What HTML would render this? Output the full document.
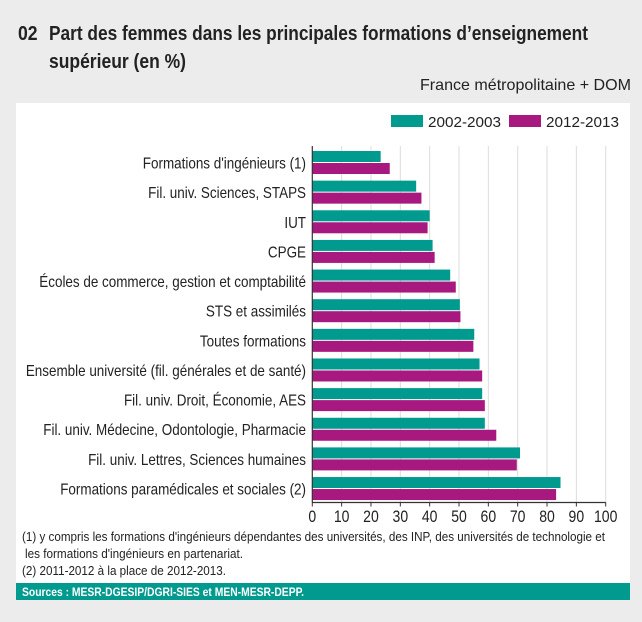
<!DOCTYPE html>
<html><head><meta charset="utf-8"><style>
html,body{margin:0;padding:0;background:#ececec;}
svg{display:block;font-family:"Liberation Sans",sans-serif;}
</style></head><body>
<svg id="chart" width="642" height="622" viewBox="0 0 642 622">
<rect x="0" y="0" width="642" height="622" fill="#ececec"/>
<g font-weight="bold" font-size="20" fill="#222">
<text x="18" y="40" transform="translate(18,0) scale(0.88,1) translate(-18,0)">02</text>
<text x="49" y="40" textLength="539" lengthAdjust="spacingAndGlyphs">Part des femmes dans les principales formations d’enseignement</text>
<text x="49" y="68" textLength="137" lengthAdjust="spacingAndGlyphs">supérieur (en %)</text>
</g>
<text x="631" y="90" text-anchor="end" font-size="16" fill="#222" textLength="211" lengthAdjust="spacingAndGlyphs">France métropolitaine + DOM</text>
<rect x="16" y="103" width="614" height="497" fill="#fff"/>
<g>
<rect x="391" y="115" width="32" height="12" fill="#009a8f"/>
<text x="428" y="127" font-size="15" fill="#222" textLength="73" lengthAdjust="spacingAndGlyphs">2002-2003</text>
<rect x="509" y="115" width="32" height="12" fill="#a7197f"/>
<text x="546" y="127" font-size="15" fill="#222" textLength="73" lengthAdjust="spacingAndGlyphs">2012-2013</text>
</g>
<g id="plot"></g>
<g font-size="13" fill="#222">
<text x="22" y="541" textLength="583" lengthAdjust="spacingAndGlyphs">(1)  y compris les formations d'ingénieurs dépendantes des universités, des INP, des universités de technologie et</text>
<text x="25" y="558" textLength="218" lengthAdjust="spacingAndGlyphs">les formations d'ingénieurs en partenariat.</text>
<text x="22" y="575" textLength="204" lengthAdjust="spacingAndGlyphs">(2) 2011-2012 à la place de 2012-2013.</text>
</g>
<rect x="16" y="583" width="614" height="17" fill="#009a8f"/>
<text x="22" y="596" font-size="12" font-weight="bold" fill="#fff" textLength="282" lengthAdjust="spacingAndGlyphs">Sources : MESR-DGESIP/DGRI-SIES et MEN-MESR-DEPP.</text>
</svg>
<script>
const categories = ["Formations d'ingénieurs (1)","Fil. univ. Sciences, STAPS","IUT","CPGE","Écoles de commerce, gestion et comptabilité","STS et assimilés","Toutes formations","Ensemble université (fil. générales et de santé)","Fil. univ. Droit, Économie, AES","Fil. univ. Médecine, Odontologie, Pharmacie","Fil. univ. Lettres, Sciences humaines","Formations paramédicales et sociales (2)"];
const values2002 = [23.3,35.4,40.0,41.0,47.0,50.3,55.2,57.0,57.9,58.8,70.8,84.6];
const values2012 = [26.4,37.2,39.3,41.7,48.9,50.5,54.9,57.9,58.8,62.7,69.7,83.1];
const ticks = [0,10,20,30,40,50,60,70,80,90,100];

const NS = "http://www.w3.org/2000/svg";
const plot = document.getElementById('plot');
const x0 = 312.3, x1 = 605.7, yTop = 146, yAxis = 502.5, rowTop = 151, pitch = 29.64, barH = 11;
const xs = v => x0 + (v / 100) * (x1 - x0);
const rowY = i => rowTop + i * pitch;
function mk(tag, attrs){ const e = document.createElementNS(NS, tag); for (const k in attrs) e.setAttribute(k, attrs[k]); plot.appendChild(e); return e; }

ticks.forEach(t => {
  if (t > 0) {
    const g = mk('line', {x1: xs(t), x2: xs(t), y1: yTop, y2: yAxis, stroke: '#dcdcdc', 'stroke-width': 1});
    
    
  }
  const tk = mk('line', {x1: xs(t), x2: xs(t), y1: yAxis, y2: yAxis + 4, stroke: '#333', 'stroke-width': 1});
  
  
  const lb = mk('text', {x: xs(t), y: 522, 'text-anchor': 'middle', 'font-size': 16.5, fill: '#222', transform: `translate(${xs(t)},0) scale(0.85,1) translate(${-xs(t)},0)`});
  lb.textContent = t;
  
  
});

categories.forEach((c, i) => {
  const y = rowY(i);
  const b1 = mk('rect', {x: x0, y: y, width: xs(values2002[i]) - x0, height: barH, fill: '#009a8f'});
  
  
  const b2 = mk('rect', {x: x0, y: y + 12, width: xs(values2012[i]) - x0, height: barH, fill: '#a7197f'});
  
  
  const t = mk('text', {x: 306, y: y + 17.5, 'text-anchor': 'end', 'font-size': 15.5, fill: '#222', transform: `translate(306,0) scale(0.868,1) translate(-306,0)`});
  t.textContent = c;
  
  
});

const ya = mk('line', {x1: x0, x2: x0, y1: yTop, y2: yAxis, stroke: '#333', 'stroke-width': 1.2});


const xa = mk('line', {x1: x0, x2: x1, y1: yAxis, y2: yAxis, stroke: '#333', 'stroke-width': 1.2});


</script>
</body></html>
